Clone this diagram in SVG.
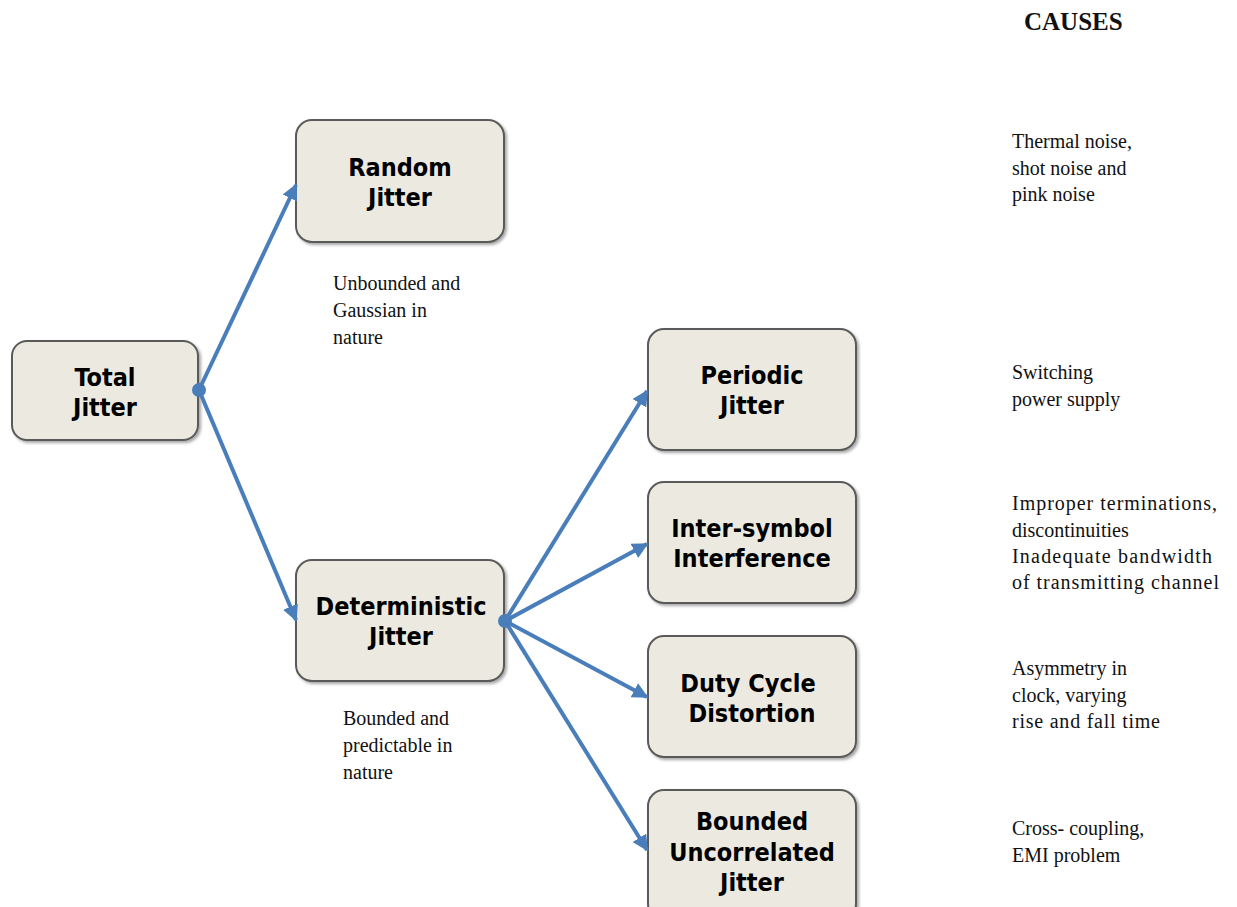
<svg xmlns="http://www.w3.org/2000/svg" width="1237" height="907" viewBox="0 0 1237 907">
  <defs>
    <marker id="arrow" viewBox="0 0 10 10" refX="9" refY="5" markerWidth="4" markerHeight="4" markerUnits="strokeWidth" orient="auto">
      <path d="M0,0 L10,5 L0,10 z" fill="#4a7ebb"/>
    </marker>
    <filter id="shadow" x="-10%" y="-10%" width="125%" height="125%">
      <feGaussianBlur in="SourceAlpha" stdDeviation="1.5"/>
      <feOffset dx="2" dy="2" result="b"/>
      <feComponentTransfer><feFuncA type="linear" slope="0.35"/></feComponentTransfer>
      <feMerge><feMergeNode/><feMergeNode in="SourceGraphic"/></feMerge>
    </filter>
  </defs>
  <style>
    .box { fill: #eceae0; stroke: #5a5a5a; stroke-width: 2; filter: url(#shadow); }
    .lbl { font-family: "DejaVu Sans Condensed", "DejaVu Sans", sans-serif; font-weight: bold; font-size: 25px; fill: #000; text-anchor: middle; }
    .note { font-family: "Liberation Serif", serif; font-size: 20px; fill: #111; }
    .head { font-family: "Liberation Serif", serif; font-size: 25px; font-weight: bold; fill: #111; }
    .link { stroke: #4a7ebb; stroke-width: 4; fill: none; marker-end: url(#arrow); }
    .dot { fill: #4a7ebb; }
  </style>
  <rect width="1237" height="907" fill="#fff"/>

  <text class="head" x="1024" y="30">CAUSES</text>

  <g id="total-jitter">
    <rect class="box" x="12" y="341" width="186" height="99" rx="15"/>
    <text class="lbl" x="105" y="386">Total</text>
    <text class="lbl" x="105" y="416">Jitter</text>
  </g>

  <g id="random-jitter">
    <rect class="box" x="296" y="120" width="208" height="122" rx="16"/>
    <text class="lbl" x="400" y="176">Random</text>
    <text class="lbl" x="400" y="206">Jitter</text>
  </g>

  <g id="deterministic-jitter">
    <rect class="box" x="296" y="560" width="208" height="121" rx="16"/>
    <text class="lbl" x="401" y="615">Deterministic</text>
    <text class="lbl" x="401" y="645">Jitter</text>
  </g>

  <g id="periodic-jitter">
    <rect class="box" x="648" y="329" width="208" height="121" rx="16"/>
    <text class="lbl" x="752" y="384">Periodic</text>
    <text class="lbl" x="752" y="414">Jitter</text>
  </g>

  <g id="inter-symbol-interference">
    <rect class="box" x="648" y="482" width="208" height="121" rx="16"/>
    <text class="lbl" x="752" y="537">Inter-symbol</text>
    <text class="lbl" x="752" y="567">Interference</text>
  </g>

  <g id="duty-cycle-distortion">
    <rect class="box" x="648" y="636" width="208" height="121" rx="16"/>
    <text class="lbl" x="748" y="692">Duty Cycle</text>
    <text class="lbl" x="752" y="722">Distortion</text>
  </g>

  <g id="bounded-uncorrelated-jitter">
    <rect class="box" x="648" y="790" width="208" height="130" rx="16"/>
    <text class="lbl" x="752" y="830">Bounded</text>
    <text class="lbl" x="752" y="861">Uncorrelated</text>
    <text class="lbl" x="752" y="891">Jitter</text>
  </g>

  <!-- branch lines, drawn over the box edges so the junction dots stay visible -->
  <g id="connectors">
    <line class="link" x1="199" y1="390" x2="296" y2="185"/>
    <line class="link" x1="199" y1="390" x2="296" y2="620"/>
    <line class="link" x1="505" y1="621" x2="647" y2="391"/>
    <line class="link" x1="505" y1="621" x2="647" y2="544"/>
    <line class="link" x1="505" y1="621" x2="647" y2="697"/>
    <line class="link" x1="505" y1="621" x2="647" y2="850"/>
    <circle class="dot" cx="199" cy="390" r="7"/>
    <circle class="dot" cx="505" cy="621" r="7"/>
  </g>

  <!-- descriptions under the first-level nodes -->
  <text class="note" x="333" y="290">Unbounded and</text>
  <text class="note" x="333" y="317">Gaussian in</text>
  <text class="note" x="333" y="344">nature</text>

  <text class="note" x="343" y="725">Bounded and</text>
  <text class="note" x="343" y="752">predictable in</text>
  <text class="note" x="343" y="779">nature</text>

  <!-- causes column -->
  <text class="note" x="1012" y="148">Thermal noise,</text>
  <text class="note" x="1012" y="175">shot noise and</text>
  <text class="note" x="1012" y="201">pink noise</text>

  <text class="note" x="1012" y="379">Switching</text>
  <text class="note" x="1012" y="406">power supply</text>

  <text class="note" x="1012" y="510" textLength="205" lengthAdjust="spacing">Improper terminations,</text>
  <text class="note" x="1012" y="537">discontinuities</text>
  <text class="note" x="1012" y="563" textLength="200" lengthAdjust="spacing">Inadequate bandwidth</text>
  <text class="note" x="1012" y="589" textLength="207" lengthAdjust="spacing">of transmitting channel</text>

  <text class="note" x="1012" y="675">Asymmetry in</text>
  <text class="note" x="1012" y="702">clock, varying</text>
  <text class="note" x="1012" y="728" textLength="148" lengthAdjust="spacing">rise and fall time</text>

  <text class="note" x="1012" y="835">Cross- coupling,</text>
  <text class="note" x="1012" y="862">EMI problem</text>
</svg>
